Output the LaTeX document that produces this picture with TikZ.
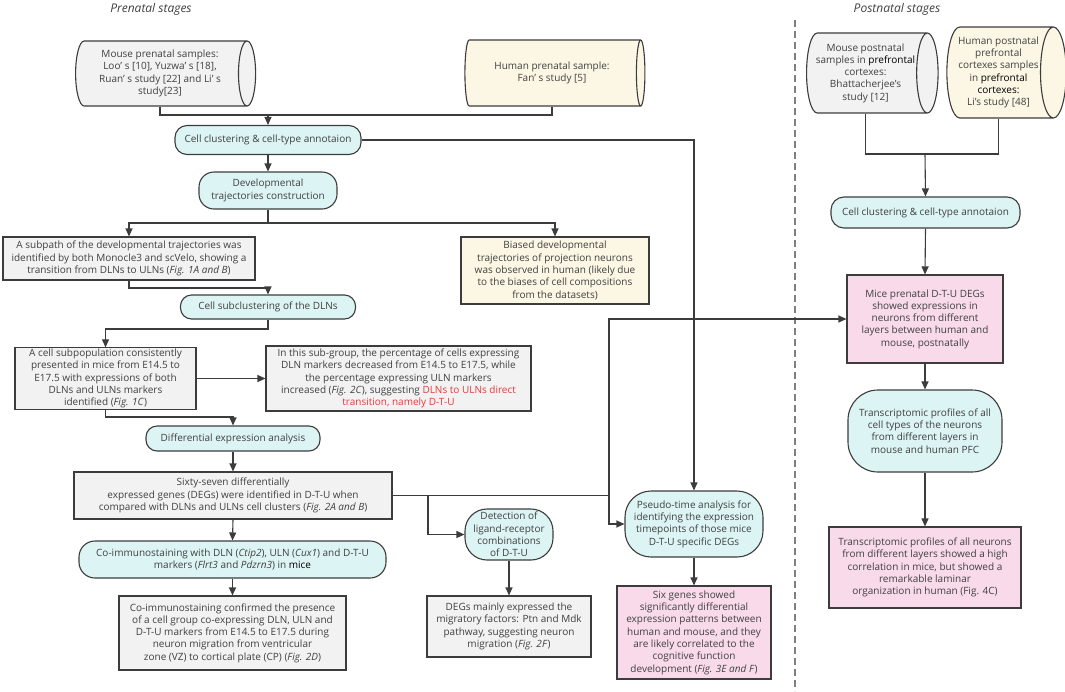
\documentclass[tikz,border=0pt]{standalone}
\usepackage{fontspec}
\setmainfont{Open Sans}
\usetikzlibrary{shapes.geometric,arrows.meta}
\definecolor{boxgray}{HTML}{F2F2F2}
\definecolor{boxcream}{HTML}{FCF7E4}
\definecolor{boxcyan}{HTML}{DDF4F4}
\definecolor{boxpink}{HTML}{F8DAEB}
\definecolor{edgegray}{HTML}{3C3C3C}
\definecolor{txtgray}{HTML}{404040}
\definecolor{txtred}{HTML}{E8393A}
\definecolor{sepgray}{HTML}{808080}
\begin{document}
\begin{tikzpicture}[x=1pt,y=-1pt,
    every node/.style={font=\fontsize{10}{12.3}\selectfont, text=txtgray, align=center, inner sep=1pt},
    proc/.style={draw=edgegray, line width=1.1pt, rectangle, fill=boxgray},
    term/.style={proc, fill=boxcyan, rounded corners=13pt},
    data/.style={draw=edgegray, line width=1.1pt, cylinder, aspect=0.35, fill=boxgray},
    link/.style={draw=edgegray, line width=1.1pt, -{Triangle[length=8pt,width=7pt]}},
    wire/.style={draw=edgegray, line width=1.1pt},
    stage/.style={font=\fontsize{12}{14}\selectfont\itshape}]
    \useasboundingbox (0,0) rectangle (1065,691);
    \node[stage] (pretitle) at (151,9) {Prenatal stages};
    \node[stage] (posttitle) at (897,9) {Postnatal stages};
    \draw[sepgray, line width=2.6pt, dash pattern=on 7pt off 4pt] (795,20) -- (795,691);

    \node[data, minimum height=180pt, minimum width=65pt] (mpre) at (160,73.5) {Mouse prenatal samples:\\Loo’ s [10], Yuzwa’ s [18],\\Ruan’ s study [22] and Li’ s\\study[23]};
    \node[data, fill=boxcream, minimum height=180pt, minimum width=66pt] (hpre) at (552,73) {Human prenatal sample:\\Fan’ s study [5]};
    \node[term, minimum width=186pt, minimum height=29pt, rounded corners=12pt] (cc1) at (268,140) {Cell clustering \& cell-type annotaion};
    \node[term, minimum width=138pt, minimum height=37pt, rounded corners=15pt] (dev) at (268,190.5) {Developmental\\trajectories construction};
    \node[proc, minimum width=252pt, minimum height=43pt] (subpath) at (129,258.5) {A subpath of the developmental trajectories was\\identified by both Monocle3 and scVelo, showing a\\transition from DLNs to ULNs (\textit{Fig. 1A and B})};
    \node[proc, fill=boxcream, minimum width=188pt, minimum height=67pt] (biased) at (555,270.5) {Biased developmental\\trajectories of projection neurons\\was observed in human (likely due\\to the biases of cell compositions\\from the datasets)};
    \node[term, minimum width=175pt, minimum height=24pt, rounded corners=11pt] (subcl) at (268,307) {Cell subclustering of the DLNs};
    \node[proc, minimum width=181pt, minimum height=61pt] (subpop) at (105.5,378.5) {A cell subpopulation consistently\\presented in mice from E14.5 to\\E17.5 with expressions of both\\DLNs and ULNs markers\\identified (\textit{Fig. 1C})};
    \node[proc, minimum width=265pt, minimum height=65pt] (subgrp) at (398.5,378.5) {In this sub-group, the percentage of cells expressing\\DLN markers decreased from E14.5 to E17.5, while\\the percentage expressing ULN markers\\increased (\textit{Fig. 2C}), suggesting \textcolor{txtred}{DLNs to ULNs direct}\\\textcolor{txtred}{transition, namely D-T-U}};
    \node[term, minimum width=174pt, minimum height=25pt, rounded corners=11pt] (diffx) at (233,438.5) {Differential expression analysis};
    \node[proc, minimum width=318pt, minimum height=47pt] (sixty) at (233,495.5) {Sixty-seven differentially\\expressed genes (DEGs) were identified in D-T-U when\\compared with DLNs and ULNs cell clusters (\textit{Fig. 2A and B})};
    \node[term, minimum width=307pt, minimum height=37pt, rounded corners=16pt] (coim) at (232.5,559.5) {Co-immunostaining with DLN (\textit{Ctip2}), ULN (\textit{Cux1}) and D-T-U\\markers (\textit{Flrt3} and \textit{Pdzrn3}) in \textcolor{black}{mice}};
    \node[proc, minimum width=227pt, minimum height=74pt] (conf) at (232.5,633) {Co-immunostaining confirmed the presence\\of a cell group co-expressing DLN, ULN and\\D-T-U markers from E14.5 to E17.5 during\\neuron migration from ventricular\\zone (VZ) to cortical plate (CP) (\textit{Fig. 2D})};
    \node[term, minimum width=88pt, minimum height=51pt, rounded corners=22pt] (lig) at (509,534.5) {Detection of\\ligand-receptor\\combinations\\of D-T-U};
    \node[proc, minimum width=164pt, minimum height=61pt] (degs) at (509,626.5) {DEGs mainly expressed the\\migratory factors: Ptn and Mdk\\pathway, suggesting neuron\\migration (\textit{Fig. 2F})};
    \node[term, minimum width=138pt, minimum height=66pt, rounded corners=26pt] (pseudo) at (694,524) {Pseudo-time analysis for\\identifying the expression\\timepoints of those mice\\D-T-U specific DEGs};
    \node[proc, fill=boxpink, minimum width=154pt, minimum height=93pt] (six) at (694,632.5) {Six genes showed\\significantly differential\\expression patterns between\\human and mouse, and they\\are likely correlated to the\\cognitive function\\development (\textit{Fig. 3E and F})};

    \node[data, minimum height=125pt, minimum width=80pt] (mpost) at (865.5,73) {Mouse postnatal\\samples in \textcolor{black}{prefrontal}\\cortexes:\\Bhattacherjee's\\study [12]};
    \node[data, fill=boxcream, minimum height=117pt, minimum width=91pt] (hpost) at (998.5,72.5) {Human postnatal\\prefrontal\\cortexes samples\\in \textcolor{black}{prefrontal}\\\textcolor{black}{cortexes:}\\Li's study [48]};
    \node[term, minimum width=189pt, minimum height=31pt, rounded corners=13pt] (cc2) at (925.5,212.5) {Cell clustering \& cell-type annotaion};
    \node[proc, fill=boxpink, minimum width=156pt, minimum height=88pt] (mdegs) at (925,319) {Mice prenatal D-T-U DEGs\\showed expressions in\\neurons from different\\layers between human and\\mouse, postnatally};
    \node[term, minimum width=154pt, minimum height=82pt, rounded corners=30pt] (trans) at (925,431) {Transcriptomic profiles of all\\cell types of the neurons\\from different layers in\\mouse and human PFC};
    \node[proc, fill=boxpink, minimum width=192pt, minimum height=81pt] (final) at (925,567.5) {Transcriptomic profiles of all neurons\\from different layers showed a high\\correlation in mice, but showed a\\remarkable laminar\\organization in human (Fig. 4C)};

    \coordinate (j1) at (268,115);
    \coordinate (j2) at (268,223);
    \coordinate (j3) at (268,288);
    \coordinate (j4) at (268,329);
    \coordinate (j5) at (233,417);
    \coordinate (j6) at (609,495.5);
    \coordinate (j7) at (428,495.5);
    \coordinate (j8) at (925,154);
    \draw[wire] (mpre.south) |- (j1);
    \draw[wire] (hpre.south) |- (j1);
    \draw[link] (j1) -- (cc1.north);
    \draw[link] (cc1.south) -- (dev.north);
    \draw[wire] (dev.south) -- (j2);
    \draw[link] (j2) -| (subpath.north);
    \draw[link] (j2) -| (biased.north);
    \draw[link] (subpath.south) |- (j3) -- (subcl.north);
    \draw[link] (subcl.south) -- (j4) -| (subpop.north);
    \draw[link] (subpop.east) -- (subgrp.west);
    \draw[link] (subpop.south) |- (j5) -- (diffx.north);
    \draw[link] (diffx.south) -- (sixty.north);
    \draw[link] (sixty.south) -- (coim.north);
    \draw[link] (coim.south) -- (conf.north);
    \draw[wire] (sixty.east) -- (j6);
    \draw[link] (j7) |- (lig.west);
    \draw[link] (j6) |- (pseudo.west);
    \draw[link] (j6) |- (mdegs.west);
    \draw[link] (cc1.east) -| (pseudo.north);
    \draw[link] (lig.south) -- (degs.north);
    \draw[link] (pseudo.south) -- (six.north);
    \draw[wire] (mpost.south) |- (j8);
    \draw[wire] (hpost.south) |- (j8);
    \draw[link] (j8) -- (cc2.north);
    \draw[link] (cc2.south) -- (mdegs.north);
    \draw[link] (mdegs.south) -- (trans.north);
    \draw[link] (trans.south) -- (final.north);
\end{tikzpicture}
\end{document}
